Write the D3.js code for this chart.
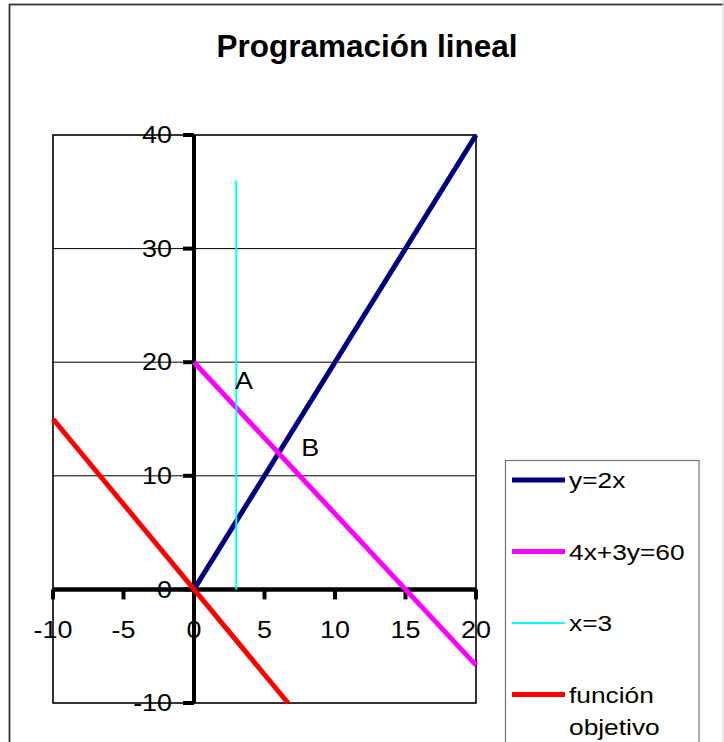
<!DOCTYPE html>
<html>
<head>
<meta charset="utf-8">
<script src="https://cdn.jsdelivr.net/npm/d3@7"></script>
<style>
  body { margin: 0; background: #fff; }
  svg { display: block; font-family: "Liberation Sans", Arial, sans-serif; }
</style>
</head>
<body>
<svg width="724" height="742"></svg>
<script>
// data
var xTicks = [-10, -5, 0, 5, 10, 15, 20];
var yTicks = [-10, 0, 10, 20, 30, 40];
var seriesNames = ["y=2x", "4x+3y=60", "x=3", "función objetivo"];
var seriesColors = ["#000080", "#ff00ff", "#00ffff", "#ff0000"];
var seriesWidths = [5, 5, 2, 5];
var lineY2x = [[0, 0], [20, 40]];
var line4x3y = [[0, 20], [20, -6.67]];
var lineX3 = [[3, 0], [3, 36]];
var lineObj = [[-10, 15], [6.67, -10]];
var pointLabels = ["A", "B"];
var pointX = [2.9, 7.6];
var pointY = [17.6, 11.7];

var svg = d3.select("svg");
var sx = 1.17; // labels look a bit stretched horizontally

var x = d3.scaleLinear().domain([-10, 20]).range([53, 476]),
    y = d3.scaleLinear().domain([-10, 40]).range([703, 135]);

// outer frame
svg.append("rect")
    .attr("x", 9.5).attr("y", 4.5)
    .attr("width", 760).attr("height", 780)
    .attr("fill", "none").attr("stroke", "#333").attr("stroke-width", 1.8);
svg.append("line")
    .attr("x1", 723).attr("x2", 723).attr("y1", 0).attr("y2", 742)
    .attr("stroke", "#ddd").attr("stroke-width", 1.5);

svg.append("text")
    .attr("x", 367).attr("y", 57)
    .attr("text-anchor", "middle")
    .attr("font-size", 31.5).attr("font-weight", "bold")
    .text("Programación lineal");

var g = svg.append("g");

// gridlines
g.selectAll(".grid")
    .data(yTicks.filter(function(d) { return d > -10 && d < 40 && d != 0; }))
  .enter().append("line")
    .attr("x1", x(-10)).attr("x2", x(20))
    .attr("y1", function(d) { return y(d); }).attr("y2", function(d) { return y(d); })
    .attr("stroke", "#000").attr("stroke-width", 1);

// plot border
g.append("rect")
    .attr("x", x(-10)).attr("y", y(40))
    .attr("width", x(20) - x(-10)).attr("height", y(-10) - y(40))
    .attr("fill", "none").attr("stroke", "#000").attr("stroke-width", 1.6);

// axes through the origin
g.append("line")
    .attr("x1", x(0)).attr("x2", x(0)).attr("y1", y(40)).attr("y2", y(-10))
    .attr("stroke", "#000").attr("stroke-width", 4);
g.append("line")
    .attr("x1", x(-10)).attr("x2", x(20)).attr("y1", y(0)).attr("y2", y(0))
    .attr("stroke", "#000").attr("stroke-width", 4.5);

g.selectAll(".ytick")
    .data(yTicks)
  .enter().append("line")
    .attr("x1", x(0) - 11).attr("x2", x(0))
    .attr("y1", function(d) { return y(d); }).attr("y2", function(d) { return y(d); })
    .attr("stroke", "#000").attr("stroke-width", 4);
g.selectAll(".xtick")
    .data(xTicks)
  .enter().append("line")
    .attr("x1", function(d) { return x(d); }).attr("x2", function(d) { return x(d); })
    .attr("y1", y(0)).attr("y2", y(0) + 10)
    .attr("stroke", "#000").attr("stroke-width", 4);

// series
var line = d3.line().x(function(d) { return x(d[0]); }).y(function(d) { return y(d[1]); });
[lineY2x, line4x3y, lineX3, lineObj].forEach(function(pts, i) {
    g.append("path")
        .attr("d", line(pts))
        .attr("fill", "none")
        .attr("stroke", seriesColors[i])
        .attr("stroke-width", seriesWidths[i]);
});

// tick labels
g.selectAll(".ylab")
    .data(yTicks)
  .enter().append("text")
    .attr("transform", function(d) { return "translate(172," + y(d) + ") scale(" + sx + ",1)"; })
    .attr("dy", "0.36em")
    .attr("text-anchor", "end")
    .attr("font-size", 23)
    .text(function(d) { return d; });
g.selectAll(".xlab")
    .data(xTicks)
  .enter().append("text")
    .attr("transform", function(d) { return "translate(" + x(d) + ",638) scale(" + sx + ",1)"; })
    .attr("text-anchor", "middle")
    .attr("font-size", 23)
    .text(function(d) { return d; });

// point labels
g.selectAll(".plab")
    .data(pointLabels)
  .enter().append("text")
    .attr("transform", function(d, i) { return "translate(" + x(pointX[i]) + "," + y(pointY[i]) + ") scale(" + sx + ",1)"; })
    .attr("font-size", 23)
    .text(function(d) { return d; });

// legend
var legend = svg.append("g");
legend.append("rect")
    .attr("x", 505.5).attr("y", 460.5)
    .attr("width", 193.5).attr("height", 320)
    .attr("fill", "#fff").attr("stroke", "#777").attr("stroke-width", 1.2);

var items = legend.selectAll(".item")
    .data(seriesNames)
  .enter().append("g")
    .attr("transform", function(d, i) { return "translate(0," + (480 + i * 71.5) + ")"; });
items.append("line")
    .attr("x1", 512).attr("x2", 565)
    .attr("stroke", function(d, i) { return seriesColors[i]; })
    .attr("stroke-width", function(d, i) { return seriesWidths[i]; });
items.append("text")
    .attr("transform", "translate(569,0) scale(" + sx + ",1)")
    .attr("dy", "0.36em")
    .attr("font-size", 22.5)
    .selectAll("tspan")
    .data(function(d) { return d.split(" "); })
  .enter().append("tspan")
    .attr("x", 0)
    .attr("dy", function(d, i) { return i ? "1.45em" : null; })
    .text(function(d) { return d; });
</script>
</body>
</html>
